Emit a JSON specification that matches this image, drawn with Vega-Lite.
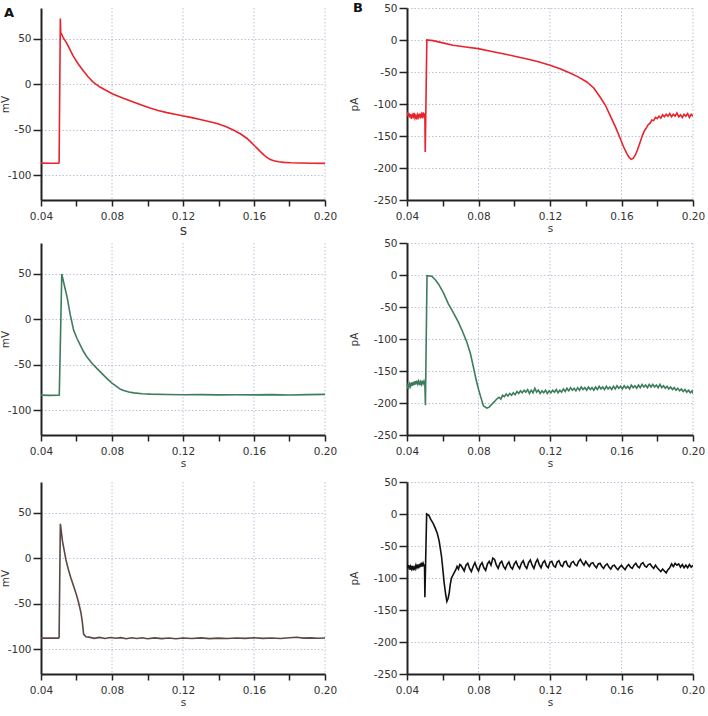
{
  "$schema": "https://vega.github.io/schema/vega-lite/v6.json",
  "padding": {"left": 0, "top": 2, "right": 0, "bottom": 0},
  "background": "white",
  "config": {
    "view": {"stroke": null},
    "axis": {
      "domainColor": "#222", "domainWidth": 2, "tickColor": "#222", "tickWidth": 1.5,
      "gridColor": "#b9c2da", "gridDash": [1.5, 2], "gridWidth": 1,
      "labelFont": "DejaVu Sans", "labelFontSize": 10.5, "labelColor": "#333",
      "titleFont": "DejaVu Sans", "titleFontWeight": "normal", "titleColor": "#333", "titleFontSize": 10.5
    },
    "axisX": {"tickSize": 6, "labelPadding": 5, "titlePadding": 2, "labelFlush": false, "labelOverlap": false, "ticks": true, "grid": false,
      "values": [0.04, 0.06, 0.08, 0.1, 0.12, 0.14, 0.16, 0.18, 0.2],
      "labelExpr": "(round(datum.value*100) % 4 == 0) ? format(datum.value, '.2f') : ''"},
    "axisY": {"tickSize": 8, "labelPadding": 2, "titlePadding": -3, "grid": true,
      "labelExpr": "datum.value < 0 ? '-' + abs(datum.value) : '' + datum.value"},
    "rule": {"color": "#b9c2da", "strokeDash": [1.5, 2], "strokeWidth": 1},
    "title": {"font": "DejaVu Sans", "fontSize": 13, "fontWeight": "bold", "color": "#111", "anchor": "start", "frame": "group", "offset": -12}
  },
  "datasets": {
    "gx": [{"g": 0.08}, {"g": 0.12}, {"g": 0.16}, {"g": 0.2}],
    "a1": [
      {"t": 0.04, "v": -86.5}, {"t": 0.045, "v": -86.6}, {"t": 0.0498, "v": -86.5}, {"t": 0.0502, "v": -86},
      {"t": 0.0509, "v": 72.5}, {"t": 0.0511, "v": 57}, {"t": 0.0517, "v": 55}, {"t": 0.0525, "v": 51.5},
      {"t": 0.0543, "v": 46}, {"t": 0.0555, "v": 41.5}, {"t": 0.058, "v": 31.7}, {"t": 0.061, "v": 22.5},
      {"t": 0.0637, "v": 15.3}, {"t": 0.0665, "v": 8.5}, {"t": 0.0694, "v": 2.5}, {"t": 0.0732, "v": -2.9},
      {"t": 0.0801, "v": -10.2}, {"t": 0.086, "v": -15}, {"t": 0.092, "v": -19.3}, {"t": 0.097, "v": -22.8},
      {"t": 0.1014, "v": -25.9}, {"t": 0.106, "v": -28.6}, {"t": 0.1109, "v": -31}, {"t": 0.1155, "v": -32.8},
      {"t": 0.1203, "v": -34.6}, {"t": 0.125, "v": -36.5}, {"t": 0.1297, "v": -38.6}, {"t": 0.1345, "v": -40.7},
      {"t": 0.1392, "v": -43}, {"t": 0.144, "v": -46.2}, {"t": 0.1486, "v": -50.3}, {"t": 0.1525, "v": -54.5},
      {"t": 0.1561, "v": -59.4}, {"t": 0.158, "v": -62.8}, {"t": 0.1599, "v": -66.6}, {"t": 0.1618, "v": -70.3},
      {"t": 0.1636, "v": -73.9}, {"t": 0.1655, "v": -77.4}, {"t": 0.1674, "v": -80.5}, {"t": 0.1692, "v": -82.5},
      {"t": 0.1712, "v": -83.8}, {"t": 0.174, "v": -85}, {"t": 0.1768, "v": -85.6}, {"t": 0.181, "v": -86.1},
      {"t": 0.1863, "v": -86.3}, {"t": 0.193, "v": -86.6}, {"t": 0.2, "v": -86.7}
    ],
    "a2": [
      {"t": 0.04, "v": -83.2}, {"t": 0.045, "v": -83.5}, {"t": 0.0495, "v": -83.3}, {"t": 0.0503, "v": -83},
      {"t": 0.0517, "v": 50}, {"t": 0.0532, "v": 37}, {"t": 0.0547, "v": 24.5}, {"t": 0.0565, "v": 5},
      {"t": 0.0584, "v": -12}, {"t": 0.0603, "v": -21}, {"t": 0.0622, "v": -28.5}, {"t": 0.064, "v": -35.5},
      {"t": 0.0659, "v": -41.2}, {"t": 0.0688, "v": -48.5}, {"t": 0.0716, "v": -54}, {"t": 0.0744, "v": -59.5},
      {"t": 0.0772, "v": -65}, {"t": 0.08, "v": -70}, {"t": 0.0829, "v": -74.1}, {"t": 0.0848, "v": -76.8},
      {"t": 0.0866, "v": -78.1}, {"t": 0.0895, "v": -79.8}, {"t": 0.0923, "v": -80.7}, {"t": 0.097, "v": -81.6},
      {"t": 0.1017, "v": -82.1}, {"t": 0.111, "v": -82.5}, {"t": 0.12, "v": -82.8}, {"t": 0.13, "v": -82.6},
      {"t": 0.14, "v": -82.9}, {"t": 0.15, "v": -82.7}, {"t": 0.16, "v": -82.9}, {"t": 0.17, "v": -82.6},
      {"t": 0.18, "v": -83}, {"t": 0.19, "v": -82.6}, {"t": 0.2, "v": -82.4}
    ],
    "a3": [
      {"t": 0.04, "v": -87.6}, {"t": 0.045, "v": -87.4}, {"t": 0.0498, "v": -87.6}, {"t": 0.0502, "v": -87},
      {"t": 0.0509, "v": 38}, {"t": 0.0521, "v": 19}, {"t": 0.054, "v": -1.1}, {"t": 0.0554, "v": -12},
      {"t": 0.0568, "v": -21.2}, {"t": 0.0582, "v": -29.5}, {"t": 0.0596, "v": -37.6}, {"t": 0.061, "v": -47},
      {"t": 0.0625, "v": -59.5}, {"t": 0.0633, "v": -70}, {"t": 0.064, "v": -83.2}, {"t": 0.0653, "v": -86.1},
      {"t": 0.067, "v": -86.5}, {"t": 0.07, "v": -87.8}, {"t": 0.073, "v": -86.8}, {"t": 0.076, "v": -87.9},
      {"t": 0.079, "v": -86.9}, {"t": 0.082, "v": -87.7}, {"t": 0.085, "v": -87}, {"t": 0.088, "v": -88.3},
      {"t": 0.091, "v": -87.2}, {"t": 0.094, "v": -88}, {"t": 0.097, "v": -87.1}, {"t": 0.1, "v": -88.2},
      {"t": 0.104, "v": -87.3}, {"t": 0.108, "v": -88.1}, {"t": 0.112, "v": -87.4}, {"t": 0.116, "v": -88.3},
      {"t": 0.12, "v": -87.5}, {"t": 0.125, "v": -88}, {"t": 0.13, "v": -87.3}, {"t": 0.135, "v": -88.1},
      {"t": 0.14, "v": -87.6}, {"t": 0.145, "v": -88}, {"t": 0.15, "v": -87.4}, {"t": 0.155, "v": -87.9},
      {"t": 0.16, "v": -87.2}, {"t": 0.165, "v": -87.8}, {"t": 0.17, "v": -87.5}, {"t": 0.175, "v": -88},
      {"t": 0.18, "v": -87.1}, {"t": 0.184, "v": -86.6}, {"t": 0.188, "v": -87.6}, {"t": 0.192, "v": -87.3},
      {"t": 0.196, "v": -87.7}, {"t": 0.2, "v": -87.4}
    ],
    "b1": [
      {"t": 0.04, "v": -112}, {"t": 0.0405, "v": -119}, {"t": 0.041, "v": -114}, {"t": 0.0415, "v": -121},
      {"t": 0.042, "v": -116}, {"t": 0.0425, "v": -123}, {"t": 0.043, "v": -117}, {"t": 0.0435, "v": -120},
      {"t": 0.044, "v": -114}, {"t": 0.0445, "v": -122}, {"t": 0.045, "v": -118}, {"t": 0.0455, "v": -124},
      {"t": 0.046, "v": -117}, {"t": 0.0465, "v": -121}, {"t": 0.047, "v": -115}, {"t": 0.0475, "v": -120},
      {"t": 0.048, "v": -116}, {"t": 0.0485, "v": -122}, {"t": 0.049, "v": -113}, {"t": 0.0495, "v": -119},
      {"t": 0.05, "v": -115}, {"t": 0.0502, "v": -175}, {"t": 0.0511, "v": 0}, {"t": 0.0546, "v": -1},
      {"t": 0.06, "v": -4.5}, {"t": 0.0658, "v": -8.3}, {"t": 0.0728, "v": -11}, {"t": 0.0798, "v": -13.5},
      {"t": 0.0868, "v": -17.5}, {"t": 0.0938, "v": -21.4}, {"t": 0.1008, "v": -25.8}, {"t": 0.1079, "v": -30.2},
      {"t": 0.114, "v": -34.5}, {"t": 0.12, "v": -39.6}, {"t": 0.1256, "v": -45}, {"t": 0.1312, "v": -51.6},
      {"t": 0.136, "v": -58}, {"t": 0.1406, "v": -65.6}, {"t": 0.1445, "v": -75}, {"t": 0.148, "v": -89},
      {"t": 0.151, "v": -102}, {"t": 0.1536, "v": -117.7}, {"t": 0.1565, "v": -135}, {"t": 0.1593, "v": -154},
      {"t": 0.161, "v": -166}, {"t": 0.163, "v": -177.6}, {"t": 0.1643, "v": -183.5}, {"t": 0.1654, "v": -186.5},
      {"t": 0.1665, "v": -185}, {"t": 0.1677, "v": -180}, {"t": 0.169, "v": -171}, {"t": 0.1705, "v": -159},
      {"t": 0.172, "v": -147}, {"t": 0.173, "v": -141}, {"t": 0.174, "v": -137}, {"t": 0.175, "v": -132},
      {"t": 0.176, "v": -130}, {"t": 0.177, "v": -125}, {"t": 0.178, "v": -126}, {"t": 0.179, "v": -121},
      {"t": 0.18, "v": -123}, {"t": 0.181, "v": -119}, {"t": 0.182, "v": -122}, {"t": 0.183, "v": -117},
      {"t": 0.184, "v": -120}, {"t": 0.185, "v": -116}, {"t": 0.186, "v": -119}, {"t": 0.187, "v": -115},
      {"t": 0.188, "v": -120}, {"t": 0.189, "v": -116}, {"t": 0.19, "v": -119}, {"t": 0.191, "v": -114},
      {"t": 0.192, "v": -120}, {"t": 0.193, "v": -117}, {"t": 0.194, "v": -121}, {"t": 0.195, "v": -116},
      {"t": 0.196, "v": -119}, {"t": 0.197, "v": -115}, {"t": 0.198, "v": -121}, {"t": 0.199, "v": -116},
      {"t": 0.2, "v": -119}
    ],
    "b2": [
      {"t": 0.04, "v": -178}, {"t": 0.0405, "v": -172}, {"t": 0.041, "v": -176}, {"t": 0.0415, "v": -170},
      {"t": 0.042, "v": -174}, {"t": 0.0425, "v": -168}, {"t": 0.043, "v": -173}, {"t": 0.0435, "v": -167},
      {"t": 0.044, "v": -172}, {"t": 0.0445, "v": -166}, {"t": 0.045, "v": -171}, {"t": 0.0455, "v": -165},
      {"t": 0.046, "v": -170}, {"t": 0.0465, "v": -166}, {"t": 0.047, "v": -172}, {"t": 0.0475, "v": -167},
      {"t": 0.048, "v": -171}, {"t": 0.0485, "v": -165}, {"t": 0.049, "v": -170}, {"t": 0.0495, "v": -166},
      {"t": 0.05, "v": -171}, {"t": 0.0503, "v": -203.5}, {"t": 0.0512, "v": -1}, {"t": 0.0538, "v": -2},
      {"t": 0.0557, "v": -7}, {"t": 0.0576, "v": -14}, {"t": 0.0604, "v": -28}, {"t": 0.0632, "v": -45.4},
      {"t": 0.066, "v": -59}, {"t": 0.0688, "v": -74}, {"t": 0.0712, "v": -89}, {"t": 0.0735, "v": -105},
      {"t": 0.0755, "v": -123}, {"t": 0.0772, "v": -144.6}, {"t": 0.0786, "v": -163}, {"t": 0.08, "v": -178.5},
      {"t": 0.0814, "v": -192}, {"t": 0.0828, "v": -204.6}, {"t": 0.0847, "v": -208}, {"t": 0.086, "v": -206.5},
      {"t": 0.0875, "v": -202}, {"t": 0.0885, "v": -199}, {"t": 0.0895, "v": -196}, {"t": 0.0905, "v": -193},
      {"t": 0.0915, "v": -191}, {"t": 0.0925, "v": -194}, {"t": 0.0935, "v": -188}, {"t": 0.0945, "v": -190},
      {"t": 0.0955, "v": -186}, {"t": 0.0965, "v": -189}, {"t": 0.0975, "v": -185}, {"t": 0.0985, "v": -188},
      {"t": 0.0995, "v": -184}, {"t": 0.1005, "v": -187}, {"t": 0.1015, "v": -182}, {"t": 0.1025, "v": -185},
      {"t": 0.1035, "v": -181}, {"t": 0.1045, "v": -184}, {"t": 0.1055, "v": -180}, {"t": 0.1065, "v": -183},
      {"t": 0.1075, "v": -179}, {"t": 0.1085, "v": -185}, {"t": 0.1095, "v": -180}, {"t": 0.1105, "v": -184},
      {"t": 0.1115, "v": -177}, {"t": 0.1125, "v": -183}, {"t": 0.1135, "v": -180}, {"t": 0.1145, "v": -185},
      {"t": 0.1155, "v": -181}, {"t": 0.1165, "v": -184}, {"t": 0.1175, "v": -180}, {"t": 0.1185, "v": -185},
      {"t": 0.1195, "v": -181}, {"t": 0.1205, "v": -184}, {"t": 0.1215, "v": -180}, {"t": 0.1225, "v": -183},
      {"t": 0.1235, "v": -179}, {"t": 0.1245, "v": -184}, {"t": 0.1255, "v": -180}, {"t": 0.1265, "v": -183},
      {"t": 0.1275, "v": -178}, {"t": 0.1285, "v": -182}, {"t": 0.1295, "v": -177}, {"t": 0.1305, "v": -181},
      {"t": 0.1315, "v": -176}, {"t": 0.1325, "v": -180}, {"t": 0.1335, "v": -177}, {"t": 0.1345, "v": -181},
      {"t": 0.1355, "v": -176}, {"t": 0.1365, "v": -180}, {"t": 0.1375, "v": -175}, {"t": 0.1385, "v": -179},
      {"t": 0.1395, "v": -176}, {"t": 0.1405, "v": -180}, {"t": 0.1415, "v": -175}, {"t": 0.1425, "v": -179},
      {"t": 0.1435, "v": -176}, {"t": 0.1445, "v": -180}, {"t": 0.1455, "v": -175}, {"t": 0.1465, "v": -179},
      {"t": 0.1475, "v": -174}, {"t": 0.1485, "v": -178}, {"t": 0.1495, "v": -175}, {"t": 0.1505, "v": -179},
      {"t": 0.1515, "v": -174}, {"t": 0.1525, "v": -178}, {"t": 0.1535, "v": -175}, {"t": 0.1545, "v": -179},
      {"t": 0.1555, "v": -174}, {"t": 0.1565, "v": -178}, {"t": 0.1575, "v": -173}, {"t": 0.1585, "v": -177},
      {"t": 0.1595, "v": -174}, {"t": 0.1605, "v": -178}, {"t": 0.1615, "v": -173}, {"t": 0.1625, "v": -177},
      {"t": 0.1635, "v": -174}, {"t": 0.1645, "v": -178}, {"t": 0.1655, "v": -172}, {"t": 0.1665, "v": -176},
      {"t": 0.1675, "v": -173}, {"t": 0.1685, "v": -177}, {"t": 0.1695, "v": -172}, {"t": 0.1705, "v": -176},
      {"t": 0.1715, "v": -171}, {"t": 0.1725, "v": -175}, {"t": 0.1735, "v": -172}, {"t": 0.1745, "v": -176},
      {"t": 0.1755, "v": -171}, {"t": 0.1765, "v": -175}, {"t": 0.1775, "v": -171}, {"t": 0.1785, "v": -175},
      {"t": 0.1795, "v": -172}, {"t": 0.1805, "v": -176}, {"t": 0.1815, "v": -171}, {"t": 0.1825, "v": -176},
      {"t": 0.1835, "v": -173}, {"t": 0.1845, "v": -177}, {"t": 0.1855, "v": -174}, {"t": 0.1865, "v": -178},
      {"t": 0.1875, "v": -175}, {"t": 0.1885, "v": -179}, {"t": 0.1895, "v": -176}, {"t": 0.1905, "v": -180},
      {"t": 0.1915, "v": -177}, {"t": 0.1925, "v": -181}, {"t": 0.1935, "v": -178}, {"t": 0.1945, "v": -182},
      {"t": 0.1955, "v": -179}, {"t": 0.1965, "v": -183}, {"t": 0.1975, "v": -180}, {"t": 0.1985, "v": -184},
      {"t": 0.1995, "v": -181}, {"t": 0.2, "v": -185}
    ],
    "b3": [
      {"t": 0.04, "v": -78}, {"t": 0.0405, "v": -85}, {"t": 0.041, "v": -80}, {"t": 0.0415, "v": -87},
      {"t": 0.042, "v": -82}, {"t": 0.0425, "v": -86}, {"t": 0.043, "v": -81}, {"t": 0.0435, "v": -88},
      {"t": 0.044, "v": -83}, {"t": 0.0445, "v": -86}, {"t": 0.045, "v": -80}, {"t": 0.0455, "v": -84},
      {"t": 0.046, "v": -79}, {"t": 0.0465, "v": -85}, {"t": 0.047, "v": -78}, {"t": 0.0475, "v": -83},
      {"t": 0.048, "v": -76}, {"t": 0.0485, "v": -82}, {"t": 0.049, "v": -77}, {"t": 0.0495, "v": -81},
      {"t": 0.0498, "v": -79}, {"t": 0.05, "v": -130}, {"t": 0.051, "v": 0}, {"t": 0.0522, "v": -2},
      {"t": 0.0533, "v": -8.4}, {"t": 0.0547, "v": -15}, {"t": 0.0561, "v": -24}, {"t": 0.057, "v": -31},
      {"t": 0.058, "v": -42.4}, {"t": 0.0593, "v": -66}, {"t": 0.06, "v": -85}, {"t": 0.0608, "v": -108},
      {"t": 0.0616, "v": -125}, {"t": 0.0623, "v": -136.6}, {"t": 0.063, "v": -132}, {"t": 0.0636, "v": -123.6},
      {"t": 0.0642, "v": -110}, {"t": 0.0649, "v": -100}, {"t": 0.066, "v": -94}, {"t": 0.0673, "v": -87},
      {"t": 0.068, "v": -82}, {"t": 0.0688, "v": -86}, {"t": 0.0695, "v": -79}, {"t": 0.0701, "v": -80},
      {"t": 0.071, "v": -84}, {"t": 0.072, "v": -89}, {"t": 0.073, "v": -80}, {"t": 0.074, "v": -77},
      {"t": 0.075, "v": -85}, {"t": 0.076, "v": -90}, {"t": 0.077, "v": -82}, {"t": 0.078, "v": -76},
      {"t": 0.079, "v": -84}, {"t": 0.08, "v": -89}, {"t": 0.081, "v": -80}, {"t": 0.082, "v": -76},
      {"t": 0.083, "v": -84}, {"t": 0.084, "v": -88}, {"t": 0.085, "v": -78}, {"t": 0.086, "v": -74},
      {"t": 0.087, "v": -80}, {"t": 0.088, "v": -69}, {"t": 0.089, "v": -71}, {"t": 0.09, "v": -80},
      {"t": 0.091, "v": -85}, {"t": 0.092, "v": -77}, {"t": 0.093, "v": -74}, {"t": 0.094, "v": -82},
      {"t": 0.095, "v": -86}, {"t": 0.096, "v": -79}, {"t": 0.097, "v": -75}, {"t": 0.098, "v": -83},
      {"t": 0.099, "v": -86}, {"t": 0.1, "v": -78}, {"t": 0.101, "v": -74}, {"t": 0.102, "v": -81},
      {"t": 0.103, "v": -85}, {"t": 0.104, "v": -77}, {"t": 0.105, "v": -73}, {"t": 0.106, "v": -81},
      {"t": 0.107, "v": -85}, {"t": 0.108, "v": -76}, {"t": 0.109, "v": -72}, {"t": 0.11, "v": -80},
      {"t": 0.111, "v": -85}, {"t": 0.112, "v": -76}, {"t": 0.113, "v": -71}, {"t": 0.114, "v": -79},
      {"t": 0.115, "v": -84}, {"t": 0.116, "v": -76}, {"t": 0.117, "v": -73}, {"t": 0.118, "v": -81},
      {"t": 0.119, "v": -84}, {"t": 0.12, "v": -75}, {"t": 0.121, "v": -74}, {"t": 0.122, "v": -81},
      {"t": 0.123, "v": -83}, {"t": 0.124, "v": -75}, {"t": 0.125, "v": -73}, {"t": 0.126, "v": -80},
      {"t": 0.127, "v": -82}, {"t": 0.128, "v": -75}, {"t": 0.129, "v": -74}, {"t": 0.13, "v": -81},
      {"t": 0.131, "v": -83}, {"t": 0.132, "v": -76}, {"t": 0.133, "v": -74}, {"t": 0.134, "v": -79},
      {"t": 0.135, "v": -81}, {"t": 0.136, "v": -74}, {"t": 0.137, "v": -71}, {"t": 0.138, "v": -76},
      {"t": 0.139, "v": -80}, {"t": 0.14, "v": -74}, {"t": 0.141, "v": -78}, {"t": 0.142, "v": -82},
      {"t": 0.143, "v": -77}, {"t": 0.144, "v": -76}, {"t": 0.145, "v": -81}, {"t": 0.146, "v": -84},
      {"t": 0.147, "v": -78}, {"t": 0.148, "v": -77}, {"t": 0.149, "v": -82}, {"t": 0.15, "v": -85},
      {"t": 0.151, "v": -80}, {"t": 0.152, "v": -78}, {"t": 0.153, "v": -83}, {"t": 0.154, "v": -86},
      {"t": 0.155, "v": -81}, {"t": 0.156, "v": -80}, {"t": 0.157, "v": -84}, {"t": 0.158, "v": -87},
      {"t": 0.159, "v": -83}, {"t": 0.16, "v": -80}, {"t": 0.161, "v": -84}, {"t": 0.162, "v": -87},
      {"t": 0.163, "v": -82}, {"t": 0.164, "v": -79}, {"t": 0.165, "v": -83}, {"t": 0.166, "v": -85},
      {"t": 0.167, "v": -80}, {"t": 0.168, "v": -77}, {"t": 0.169, "v": -82}, {"t": 0.17, "v": -84},
      {"t": 0.171, "v": -78}, {"t": 0.172, "v": -76}, {"t": 0.173, "v": -81}, {"t": 0.174, "v": -83},
      {"t": 0.175, "v": -79}, {"t": 0.176, "v": -78}, {"t": 0.177, "v": -82}, {"t": 0.178, "v": -85},
      {"t": 0.179, "v": -80}, {"t": 0.18, "v": -84}, {"t": 0.181, "v": -87}, {"t": 0.182, "v": -90},
      {"t": 0.183, "v": -86}, {"t": 0.184, "v": -89}, {"t": 0.185, "v": -92}, {"t": 0.186, "v": -87},
      {"t": 0.187, "v": -84}, {"t": 0.188, "v": -78}, {"t": 0.189, "v": -82}, {"t": 0.19, "v": -77},
      {"t": 0.191, "v": -80}, {"t": 0.192, "v": -78}, {"t": 0.193, "v": -83}, {"t": 0.194, "v": -79},
      {"t": 0.195, "v": -84}, {"t": 0.196, "v": -80}, {"t": 0.197, "v": -84}, {"t": 0.198, "v": -79},
      {"t": 0.199, "v": -83}, {"t": 0.2, "v": -80}
    ]
  },
  "vconcat": [
    {
      "vconcat": [
        {
          "hconcat": [
            {
              "width": 284, "height": 192,
              "title": {"text": "A", "dx": -37},
              "layer": [
                {"data": {"name": "gx"}, "mark": {"type": "rule"},
                  "encoding": {"x": {"field": "g", "type": "quantitative", "scale": {"domain": [0.04, 0.2], "nice": false, "zero": false}, "axis": {"title": "s", "titleFontSize": 14}}}},
                {"data": {"name": "a1"},
                  "mark": {"type": "line", "color": "#e8232b", "strokeWidth": 1.6, "clip": true},
                  "encoding": {
                    "x": {"field": "t", "type": "quantitative", "scale": {"domain": [0.04, 0.2], "nice": false, "zero": false}, "axis": {"title": "s", "titleFontSize": 14}},
                    "y": {"field": "v", "type": "quantitative", "scale": {"domain": [-127, 84], "nice": false, "zero": false}, "axis": {"title": "mV", "values": [50, 0, -50, -100]}}
                  }}
              ]
            },
            {
              "width": 286, "height": 192,
              "title": {"text": "B", "dx": -54},
              "layer": [
                {"data": {"name": "gx"}, "mark": {"type": "rule"},
                  "encoding": {"x": {"field": "g", "type": "quantitative", "scale": {"domain": [0.04, 0.2], "nice": false, "zero": false}, "axis": {"title": "s"}}}},
                {"data": {"name": "b1"},
                  "mark": {"type": "line", "color": "#e8232b", "strokeWidth": 1.6, "clip": true},
                  "encoding": {
                    "x": {"field": "t", "type": "quantitative", "scale": {"domain": [0.04, 0.2], "nice": false, "zero": false}, "axis": {"title": "s"}},
                    "y": {"field": "v", "type": "quantitative", "scale": {"domain": [-250, 50], "nice": false, "zero": false}, "axis": {"title": "pA", "titlePadding": 14, "values": [50, 0, -50, -100, -150, -200, -250]}}
                  }}
              ]
            }
          ],
          "spacing": 12
        },
        {
          "hconcat": [
            {
              "width": 284, "height": 192,
              "layer": [
                {"data": {"name": "gx"}, "mark": {"type": "rule"},
                  "encoding": {"x": {"field": "g", "type": "quantitative", "scale": {"domain": [0.04, 0.2], "nice": false, "zero": false}, "axis": {"title": "s"}}}},
                {"data": {"name": "a2"},
                  "mark": {"type": "line", "color": "#3d7d5c", "strokeWidth": 1.6, "clip": true},
                  "encoding": {
                    "x": {"field": "t", "type": "quantitative", "scale": {"domain": [0.04, 0.2], "nice": false, "zero": false}, "axis": {"title": "s"}},
                    "y": {"field": "v", "type": "quantitative", "scale": {"domain": [-127, 84], "nice": false, "zero": false}, "axis": {"title": "mV", "values": [50, 0, -50, -100]}}
                  }}
              ]
            },
            {
              "width": 286, "height": 192,
              "layer": [
                {"data": {"name": "gx"}, "mark": {"type": "rule"},
                  "encoding": {"x": {"field": "g", "type": "quantitative", "scale": {"domain": [0.04, 0.2], "nice": false, "zero": false}, "axis": {"title": "s"}}}},
                {"data": {"name": "b2"},
                  "mark": {"type": "line", "color": "#3d7d5c", "strokeWidth": 1.6, "clip": true},
                  "encoding": {
                    "x": {"field": "t", "type": "quantitative", "scale": {"domain": [0.04, 0.2], "nice": false, "zero": false}, "axis": {"title": "s"}},
                    "y": {"field": "v", "type": "quantitative", "scale": {"domain": [-250, 50], "nice": false, "zero": false}, "axis": {"title": "pA", "titlePadding": 14, "values": [50, 0, -50, -100, -150, -200, -250]}}
                  }}
              ]
            }
          ],
          "spacing": 12
        }
      ],
      "spacing": 0
    },
    {
      "hconcat": [
        {
          "width": 284, "height": 192,
          "layer": [
            {"data": {"name": "gx"}, "mark": {"type": "rule"},
              "encoding": {"x": {"field": "g", "type": "quantitative", "scale": {"domain": [0.04, 0.2], "nice": false, "zero": false}, "axis": {"title": "s"}}}},
            {"data": {"name": "a3"},
              "mark": {"type": "line", "color": "#5a4842", "strokeWidth": 1.6, "clip": true},
              "encoding": {
                "x": {"field": "t", "type": "quantitative", "scale": {"domain": [0.04, 0.2], "nice": false, "zero": false}, "axis": {"title": "s"}},
                "y": {"field": "v", "type": "quantitative", "scale": {"domain": [-127, 84], "nice": false, "zero": false}, "axis": {"title": "mV", "values": [50, 0, -50, -100]}}
              }}
          ]
        },
        {
          "width": 286, "height": 192,
          "layer": [
            {"data": {"name": "gx"}, "mark": {"type": "rule"},
              "encoding": {"x": {"field": "g", "type": "quantitative", "scale": {"domain": [0.04, 0.2], "nice": false, "zero": false}, "axis": {"title": "s"}}}},
            {"data": {"name": "b3"},
              "mark": {"type": "line", "color": "#111111", "strokeWidth": 1.6, "clip": true},
              "encoding": {
                "x": {"field": "t", "type": "quantitative", "scale": {"domain": [0.04, 0.2], "nice": false, "zero": false}, "axis": {"title": "s"}},
                "y": {"field": "v", "type": "quantitative", "scale": {"domain": [-250, 50], "nice": false, "zero": false}, "axis": {"title": "pA", "titlePadding": 14, "values": [50, 0, -50, -100, -150, -200, -250]}}
              }}
          ]
        }
      ],
      "spacing": 12
    }
  ],
  "spacing": 8
}
